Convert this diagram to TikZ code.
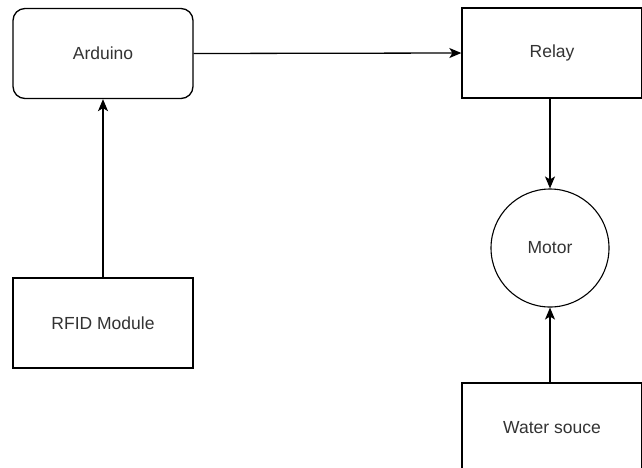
\documentclass[tikz,border=0pt]{standalone}
\usepackage{fontspec}
\setmainfont{Liberation Sans}
\usetikzlibrary{arrows.meta}
\definecolor{txt}{HTML}{333333}
\tikzset{
  blk/.style={draw=black, line width=1.3pt, fill=white, minimum width=180pt, minimum height=90pt, inner sep=0pt, font=\fontsize{17.5}{20}\selectfont, text=txt},
  rblk/.style={blk, rounded corners=12pt},
  circ/.style={draw=black, line width=1.1pt, circle, minimum size=118pt, inner sep=0pt, font=\fontsize{17.5}{20}\selectfont, text=txt},
  conn/.style={line width=1.3pt, -{Stealth[length=12pt, width=10pt, inset=3pt]}}
}
\begin{document}
\begin{tikzpicture}[x=1pt, y=-1pt]
\useasboundingbox (0,0) rectangle (642,467);
\node[rblk] (ard) at (103,53.5) {Arduino};
\node[blk] (rel) at (552,53) {Relay};
\node[circ] (mot) at (550,248) {Motor};
\node[blk] (rfid) at (103,323) {RFID Module};
\node[blk] (wat) at (552,428) {Water souce};
\draw[conn] (ard.east) -- (rel.west);
\draw[conn] (rfid.north) -- (ard.south);
\draw[conn] (rel.south -| mot.north) -- (mot.north);
\draw[conn] (wat.north -| mot.south) -- (mot.south);
\end{tikzpicture}
\end{document}
